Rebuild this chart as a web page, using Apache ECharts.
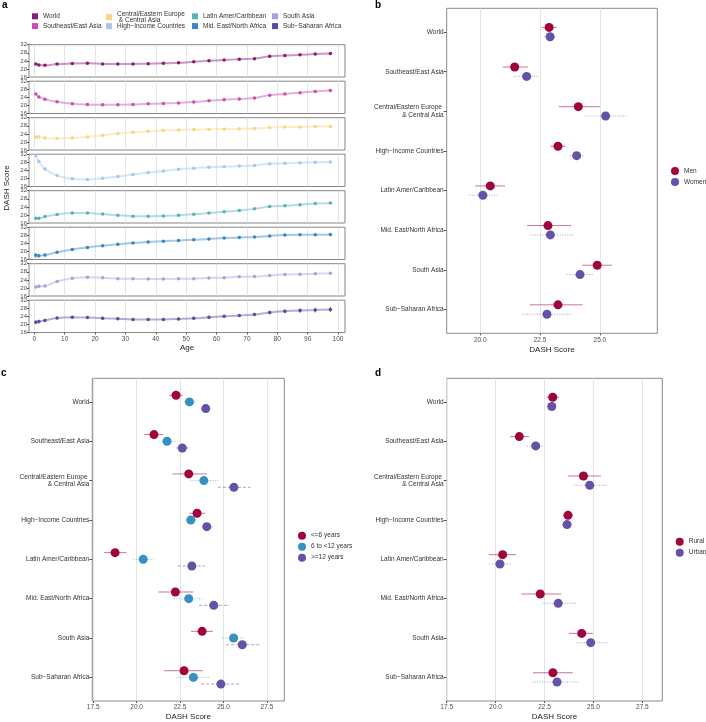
<!DOCTYPE html>
<html>
<head>
<meta charset="utf-8">
<title>DASH Score</title>
<style>html,body{margin:0;padding:0;background:#fff;} #chart{width:706px;height:722px;}</style>
</head>
<body>
<div id="chart"></div>
<script src="https://cdn.jsdelivr.net/npm/echarts@6/dist/echarts.min.js"></script>
<script>
// ---- data ----
var ages = [0.5, 1.5, 3.5, 7.5, 12.5, 17.5, 22.5, 27.5, 32.5, 37.5, 42.5, 47.5, 52.5, 57.5, 62.5, 67.5, 72.5, 77.5, 82.5, 87.5, 92.5, 97.5];
var ageTicks = [0, 10, 20, 30, 40, 50, 60, 70, 80, 90, 100];
var regions = ['World', 'Southeast/East Asia', 'Central/Eastern Europe & Central Asia', 'High\u2212Income Countries',
               'Latin Amer/Caribbean', 'Mid. East/North Africa', 'South Asia', 'Sub\u2212Saharan Africa'];
var regionLabels = ['World', 'Southeast/East Asia', 'Central/Eastern Europe \n& Central Asia', 'High\u2212Income Countries',
                    'Latin Amer/Caribbean', 'Mid. East/North Africa', 'South Asia', 'Sub\u2212Saharan Africa'];

var worldAge   = [22.5, 22.0, 21.8, 22.4, 22.7, 22.8, 22.5, 22.4, 22.5, 22.6, 22.8, 23.0, 23.5, 24.0, 24.4, 24.8, 25.1, 26.3, 26.6, 27.0, 27.4, 27.7];
var seAsiaAge  = [25.7, 24.2, 23.1, 21.8, 20.8, 20.4, 20.3, 20.3, 20.5, 20.8, 20.9, 21.2, 21.7, 22.3, 22.8, 23.2, 23.7, 25.1, 25.7, 26.3, 26.9, 27.4];
var ceeAge     = [22.4, 22.5, 22.0, 21.7, 22.0, 22.5, 23.3, 24.2, 24.8, 25.3, 25.6, 25.9, 26.1, 26.3, 26.4, 26.5, 26.7, 27.2, 27.4, 27.4, 27.6, 27.6];
var hicAge     = [31.3, 28.4, 24.7, 21.4, 19.8, 19.5, 20.1, 20.9, 22.0, 22.9, 23.7, 24.5, 25.1, 25.5, 25.8, 26.1, 26.4, 27.3, 27.5, 27.8, 28.0, 28.1];
var latinAge   = [18.3, 18.3, 19.2, 20.2, 20.9, 20.9, 20.4, 19.8, 19.4, 19.3, 19.5, 19.8, 20.3, 20.9, 21.6, 22.2, 23.0, 24.2, 24.6, 25.1, 25.6, 25.9];
var meNaAge    = [18.1, 17.9, 18.2, 19.6, 21.0, 22.0, 22.8, 23.6, 24.2, 24.7, 25.1, 25.4, 25.8, 26.1, 26.6, 26.9, 27.1, 27.7, 28.1, 28.2, 28.2, 28.4];
var sAsiaAge   = [20.5, 20.8, 21.0, 23.2, 24.8, 25.3, 25.0, 24.6, 24.5, 24.4, 24.4, 24.5, 24.6, 24.9, 25.1, 25.5, 25.6, 26.2, 26.6, 26.8, 27.0, 27.3];
var ssaAge     = [21.1, 21.4, 22.0, 23.2, 23.6, 23.4, 23.1, 22.8, 22.5, 22.5, 22.5, 22.7, 23.0, 23.5, 24.0, 24.4, 24.9, 25.9, 26.5, 26.9, 27.1, 27.4];

// half-widths of the age error bars
var worldAgeErr  = [0.4, 0.3, 0.3, 0.2, 0.2, 0.2, 0.2, 0.2, 0.2, 0.2, 0.2, 0.2, 0.2, 0.2, 0.2, 0.2, 0.2, 0.2, 0.2, 0.3, 0.3, 0.3];
var seAsiaAgeErr = [0.5, 0.4, 0.3, 0.3, 0.2, 0.2, 0.2, 0.2, 0.2, 0.2, 0.2, 0.2, 0.2, 0.2, 0.2, 0.2, 0.2, 0.3, 0.3, 0.3, 0.3, 0.3];
var ceeAgeErr    = [1.0, 1.0, 0.8, 0.5, 0.4, 0.3, 0.3, 0.3, 0.3, 0.3, 0.3, 0.3, 0.3, 0.3, 0.3, 0.3, 0.3, 0.3, 0.3, 0.3, 0.4, 0.4];
var hicAgeErr    = [0.5, 0.4, 0.3, 0.3, 0.2, 0.2, 0.2, 0.2, 0.2, 0.2, 0.2, 0.2, 0.2, 0.2, 0.2, 0.2, 0.2, 0.2, 0.2, 0.2, 0.2, 0.3];
var latinAgeErr  = [0.5, 0.5, 0.4, 0.4, 0.3, 0.3, 0.3, 0.3, 0.3, 0.3, 0.3, 0.3, 0.3, 0.3, 0.3, 0.3, 0.3, 0.4, 0.4, 0.4, 0.4, 0.5];
var meNaAgeErr   = [1.1, 0.9, 0.8, 0.6, 0.6, 0.6, 0.6, 0.5, 0.5, 0.5, 0.5, 0.5, 0.5, 0.5, 0.5, 0.5, 0.5, 0.5, 0.5, 0.5, 0.6, 0.6];
var sAsiaAgeErr  = [0.6, 0.5, 0.4, 0.3, 0.3, 0.3, 0.2, 0.2, 0.2, 0.2, 0.2, 0.2, 0.2, 0.2, 0.2, 0.2, 0.2, 0.3, 0.3, 0.3, 0.3, 0.3];
var ssaAgeErr    = [1.0, 0.9, 0.8, 0.7, 0.7, 0.7, 0.7, 0.6, 0.6, 0.6, 0.6, 0.6, 0.6, 0.6, 0.7, 0.7, 0.8, 0.9, 1.0, 1.1, 1.2, 1.3];

// panel b: sex
var menMean    = [22.88, 21.44, 24.10, 23.25, 20.42, 22.83, 24.89, 23.25];
var menLow     = [22.57, 20.94, 23.28, 22.93, 19.79, 21.96, 24.26, 22.08];
var menHigh    = [23.19, 21.99, 25.00, 23.57, 21.04, 23.80, 25.50, 24.28];
var womenMean  = [22.92, 21.94, 25.24, 24.03, 20.11, 22.93, 24.17, 22.79];
var womenLow   = [22.67, 21.42, 24.39, 23.75, 19.54, 22.07, 23.61, 21.74];
var womenHigh  = [23.15, 22.43, 26.15, 24.35, 20.72, 23.89, 24.75, 23.79];

// panel c: education
var eduLowMean  = [22.27, 21.00, 23.00, 23.48, 18.76, 22.23, 23.77, 22.73];
var eduLowLow   = [21.88, 20.44, 22.08, 23.04, 18.11, 21.25, 23.14, 21.56];
var eduLowHigh  = [22.66, 21.54, 24.04, 23.94, 19.42, 23.27, 24.39, 23.81];
var eduMidMean  = [23.04, 21.75, 23.87, 23.12, 20.38, 23.00, 25.58, 23.27];
var eduMidLow   = [22.73, 21.31, 23.08, 22.79, 19.81, 22.15, 24.94, 22.25];
var eduMidHigh  = [23.37, 22.25, 24.71, 23.46, 21.00, 23.89, 26.20, 24.23];
var eduHighMean = [23.98, 22.63, 25.60, 24.04, 23.18, 24.44, 26.08, 24.85];
var eduHighLow  = [23.71, 22.27, 24.68, 23.75, 22.37, 23.60, 25.16, 23.71];
var eduHighHigh = [24.27, 23.12, 26.54, 24.37, 23.94, 25.35, 27.06, 25.96];

// panel d: residence
var ruralMean  = [22.92, 21.21, 24.49, 23.70, 20.36, 22.28, 24.40, 22.93];
var ruralLow   = [22.61, 20.75, 23.70, 23.45, 19.66, 21.31, 23.75, 21.91];
var ruralHigh  = [23.24, 21.70, 25.38, 23.96, 21.05, 23.36, 24.97, 23.94];
var urbanMean  = [22.87, 22.05, 24.81, 23.65, 20.22, 23.20, 24.86, 23.14];
var urbanLow   = [22.64, 21.60, 24.01, 23.40, 19.69, 22.39, 24.13, 21.86];
var urbanHigh  = [23.10, 22.51, 25.70, 23.92, 20.82, 24.16, 25.75, 24.27];

var bTicks = [20, 22.5, 25];
var cdTicks = [17.5, 20, 22.5, 25, 27.5];
var catTicks = [0, 1, 2, 3, 4, 5, 6, 7];

// ---- styling ----
var FONT = "'Liberation Sans', Arial, sans-serif";
var regionColors = ['#8c1a79', '#cc4db3', '#f7d882', '#a5c8ee', '#5cb1b9', '#3a88bd', '#a8a3da', '#5b4c9d'];
var MAROON = '#a0043f', PURPLE = '#6551a6', BLUE = '#3590c3';
var byAge = [worldAge, seAsiaAge, ceeAge, hicAge, latinAge, meNaAge, sAsiaAge, ssaAge];
var byAgeErr = [worldAgeErr, seAsiaAgeErr, ceeAgeErr, hicAgeErr, latinAgeErr, meNaAgeErr, sAsiaAgeErr, ssaAgeErr];

var grids = [], xAxes = [], yAxes = [], series = [], legends = [];

// panel a: 8 facets stacked
for (var i = 0; i < 8; i++) {
    grids.push({left: 29, width: 316, top: 44.7 + 36.5 * i, height: 32.3,
                show: true, borderColor: '#858585', borderWidth: 1, backgroundColor: '#fff'});
    var last = (i === 7);
    xAxes.push({
        gridIndex: i, type: 'value', min: -1.75, max: 102.3,
        axisLine: {show: false, onZero: false},
        axisTick: {show: last, customValues: ageTicks, length: 2, lineStyle: {color: '#555'}},
        axisLabel: {show: last, customValues: ageTicks, fontSize: 6.5, color: '#4d4d4d', margin: 3, fontFamily: FONT},
        splitLine: {show: true, lineStyle: {color: '#dedede', width: 0.8}},
        name: last ? 'Age' : '', nameLocation: 'middle', nameGap: 11,
        nameTextStyle: {fontSize: 8, color: '#222', fontFamily: FONT}
    });
    yAxes.push({
        gridIndex: i, type: 'value', min: 16, max: 32, interval: 4,
        axisLine: {show: false, onZero: false},
        axisTick: {show: true, length: 2, lineStyle: {color: '#555'}},
        axisLabel: {fontSize: 6, color: '#4d4d4d', margin: 2, fontFamily: FONT},
        splitLine: {show: false}
    });
    (function (k) {
        var vals = byAge[k], errs = byAgeErr[k], col = regionColors[k];
        series.push({
            name: regions[k] + ' CI', type: 'custom', xAxisIndex: k, yAxisIndex: k,
            encode: {x: 0, y: [1, 2]},
            data: ages.map(function (a, j) { return [a, vals[j] - errs[j], vals[j] + errs[j]]; }),
            renderItem: function (params, api) {
                var p1 = api.coord([api.value(0), api.value(1)]);
                var p2 = api.coord([api.value(0), api.value(2)]);
                return {type: 'line', shape: {x1: p1[0], y1: p1[1], x2: p2[0], y2: p2[1]},
                        style: {stroke: col, lineWidth: 1, opacity: 0.9}};
            },
            silent: true
        });
        series.push({
            name: regions[k], type: 'line', xAxisIndex: k, yAxisIndex: k,
            data: ages.map(function (a, j) { return [a, vals[j]]; }),
            smooth: 0.35, symbol: 'circle', symbolSize: 3.5, showSymbol: true,
            itemStyle: {color: col},
            lineStyle: {color: col, width: 2, opacity: 0.45}
        });
    })(i);
}

// legend for panel a (column-major, 4 columns x 2 rows)
var legendLeft = [32, 106, 192, 272];
for (var li = 0; li < 8; li++) {
    var col = Math.floor(li / 2), row = li % 2;
    var twoLine = (li === 2);
    legends.push({
        data: [{name: regions[li], icon: 'rect', itemStyle: {color: regionColors[li]}}],
        left: legendLeft[col], top: row ? 22.6 : (twoLine ? 10.3 : 12.8),
        padding: 0, itemWidth: 6, itemHeight: 6, selectedMode: false,
        formatter: function (n) { return n === regions[2] ? 'Central/Eastern Europe\n & Central Asia' : n; },
        textStyle: {fontSize: 6.5, lineHeight: 6.5, color: '#333', fontFamily: FONT}
    });
}

// dot-and-whisker panels
function dotPanel(g, left, top, width, height, xmin, xmax, ticks, groups, legLeft, legTop) {
    grids.push({left: left, top: top, width: width, height: height,
                show: true, borderColor: '#8a8a8a', borderWidth: 1, backgroundColor: '#fff'});
    xAxes.push({
        gridIndex: g, type: 'value', min: xmin, max: xmax,
        axisLine: {show: false, onZero: false},
        axisTick: {show: true, customValues: ticks, length: 2, lineStyle: {color: '#555'}},
        axisLabel: {customValues: ticks, fontSize: 6.5, color: '#4d4d4d', margin: 3, fontFamily: FONT,
                    formatter: function (v) { return v.toFixed(1); }},
        splitLine: {show: true, lineStyle: {color: '#dedede', width: 0.8}},
        name: 'DASH Score', nameLocation: 'middle', nameGap: 12,
        nameTextStyle: {fontSize: 8, color: '#222', fontFamily: FONT}
    });
    yAxes.push({
        gridIndex: g, type: 'value', min: -0.6, max: 7.6, inverse: true,
        axisLine: {show: false, onZero: false},
        axisTick: {show: true, customValues: catTicks, length: 3, lineStyle: {color: '#555'}},
        axisLabel: {customValues: catTicks, fontSize: 6.5, lineHeight: 7.5, color: '#333', margin: 3, fontFamily: FONT,
                    formatter: function (v) { return regionLabels[Math.round(v)]; }},
        splitLine: {show: false}
    });
    groups.forEach(function (gr) {
        series.push({
            name: gr.name + ' CI', type: 'custom', xAxisIndex: g, yAxisIndex: g,
            encode: {x: [0, 1], y: 2},
            data: gr.mean.map(function (m, j) { return [gr.low[j], gr.high[j], j + gr.off]; }),
            renderItem: function (params, api) {
                var p1 = api.coord([api.value(0), api.value(2)]);
                var p2 = api.coord([api.value(1), api.value(2)]);
                return {type: 'line', shape: {x1: p1[0], y1: p1[1], x2: p2[0], y2: p2[1]},
                        style: {stroke: gr.color, lineWidth: 1, opacity: 0.55, lineDash: gr.dash}};
            },
            silent: true
        });
    });
    groups.forEach(function (gr) {
        series.push({
            name: gr.name, type: 'scatter', xAxisIndex: g, yAxisIndex: g,
            data: gr.mean.map(function (m, j) { return [m, j + gr.off]; }),
            symbolSize: 9, itemStyle: {color: gr.color, opacity: 1}
        });
    });
    legends.push({
        data: groups.map(function (gr) { return {name: gr.name, icon: 'circle', itemStyle: {color: gr.color}}; }),
        orient: 'vertical', left: legLeft, top: legTop, padding: 0, itemGap: 3,
        itemWidth: 8, itemHeight: 8, selectedMode: false,
        textStyle: {fontSize: 6.5, color: '#333', fontFamily: FONT}
    });
}

dotPanel(8, 446.7, 8.3, 210.6, 325, 18.6, 27.4, bTicks, [
    {name: 'Men', mean: menMean, low: menLow, high: menHigh, color: MAROON, dash: null, off: -0.118},
    {name: 'Women', mean: womenMean, low: womenLow, high: womenHigh, color: PURPLE, dash: [1, 1.5], off: 0.118}
], 671, 167);

dotPanel(9, 92.3, 378.3, 192, 325.7, 17.45, 28.5, cdTicks, [
    {name: '<=6 years', mean: eduLowMean, low: eduLowLow, high: eduLowHigh, color: MAROON, dash: null, off: -0.17},
    {name: '6 to <12 years', mean: eduMidMean, low: eduMidLow, high: eduMidHigh, color: BLUE, dash: [1, 1.5], off: 0},
    {name: '>=12 years', mean: eduHighMean, low: eduHighLow, high: eduHighHigh, color: PURPLE, dash: [3, 2], off: 0.17}
], 298, 531.7);

dotPanel(10, 446.7, 378.3, 215.6, 325.7, 17.5, 28.52, cdTicks, [
    {name: 'Rural', mean: ruralMean, low: ruralLow, high: ruralHigh, color: MAROON, dash: null, off: -0.118},
    {name: 'Urban', mean: urbanMean, low: urbanLow, high: urbanHigh, color: PURPLE, dash: [1, 1.5], off: 0.118}
], 675.7, 537.7);

var chart = echarts.init(document.getElementById('chart'), null, {renderer: 'canvas'});
chart.setOption({
    animation: false,
    backgroundColor: '#fff',
    textStyle: {fontFamily: FONT},
    grid: grids, xAxis: xAxes, yAxis: yAxes, series: series, legend: legends,
    graphic: [
        {type: 'text', x: 2, y: 0, style: {text: 'a', font: "bold 10px 'Liberation Sans', Arial", fill: '#000'}},
        {type: 'text', x: 375, y: 0, style: {text: 'b', font: "bold 10px 'Liberation Sans', Arial", fill: '#000'}},
        {type: 'text', x: 1, y: 368, style: {text: 'c', font: "bold 10px 'Liberation Sans', Arial", fill: '#000'}},
        {type: 'text', x: 375, y: 368, style: {text: 'd', font: "bold 10px 'Liberation Sans', Arial", fill: '#000'}},
        {type: 'text', x: 7, y: 188, rotation: Math.PI / 2,
         style: {text: 'DASH Score', font: "8px 'Liberation Sans', Arial", fill: '#222', align: 'center', verticalAlign: 'middle'}}
    ]
});
</script>
</body>
</html>
